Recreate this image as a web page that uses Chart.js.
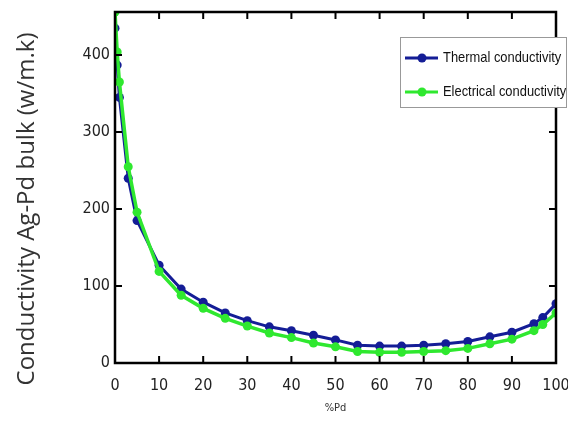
<!DOCTYPE html>
<html>
<head>
<meta charset="utf-8">
<script src="https://cdn.jsdelivr.net/npm/chart.js@4"></script>
<style>
  body { margin: 0; background: #fff; }
  canvas { display: block; }
</style>
</head>
<body>
<canvas id="line-chartcanvas" width="568" height="425"></canvas>
<script>
// %Pd values (x) and the two series
var pdPercent = [0, 0.5, 1, 3, 5, 10, 15, 20, 25, 30, 35, 40, 45, 50, 55, 60, 65, 70, 75, 80, 85, 90, 95, 97, 100];
var thermal = [435, 387, 345, 240, 185, 127, 96, 79, 65, 55, 47, 42, 36, 30, 23, 22, 22, 23, 25, 28, 34, 40, 51, 59, 77];
var electrical = [456, 404, 365, 255, 196, 119, 88, 71, 58, 48, 39, 33, 26, 21, 15, 14, 14, 15, 16, 19, 25, 31, 42, 50, 65];
var yTicks = [0, 100, 200, 300, 400];
var xTicks = [0, 10, 20, 30, 40, 50, 60, 70, 80, 90, 100];
var yTitle = "Conductivity Ag-Pd bulk (w/m.k)";

var BLUE = "#141d96";
var GREEN = "#2fe82f";
var NARROW = "'DejaVu Sans Condensed', 'Liberation Sans', Arial, sans-serif";

function toPoints(ys) {
  return pdPercent.map(function (x, i) { return { x: x, y: ys[i] }; });
}

// black box round the plot with inward ticks on all four sides
var frame = {
  id: "frame",
  afterDatasetsDraw: function (chart) {
    var c = chart.ctx, a = chart.chartArea;
    var xs = chart.scales.x, ys = chart.scales.y;
    c.save();
    c.strokeStyle = "#000";
    c.lineWidth = 2.5;
    c.strokeRect(a.left, a.top, a.right - a.left, a.bottom - a.top);
    c.lineWidth = 2;
    c.beginPath();
    xTicks.forEach(function (v) {
      var px = xs.getPixelForValue(v);
      c.moveTo(px, a.bottom); c.lineTo(px, a.bottom - 7);
      c.moveTo(px, a.top); c.lineTo(px, a.top + 7);
    });
    yTicks.forEach(function (v) {
      var py = ys.getPixelForValue(v);
      c.moveTo(a.left, py); c.lineTo(a.left + 7, py);
      c.moveTo(a.right, py); c.lineTo(a.right - 7, py);
    });
    c.stroke();
    c.restore();
  },
  afterDraw: function (chart) {
    var c = chart.ctx;
    c.save();
    // y axis title, sits a bit lower than the plot centre
    c.translate(27, 209);
    c.rotate(-Math.PI / 2);
    c.fillStyle = "#333";
    c.font = "24px 'Open Sans', sans-serif";
    c.textAlign = "center";
    c.textBaseline = "middle";
    c.fillText(yTitle, 0, 0);
    c.restore();

    // legend box, top right
    var bx = 400, by = 37, bw = 167, bh = 71;
    c.save();
    c.fillStyle = "#fff";
    c.fillRect(bx, by, bw, bh);
    c.strokeStyle = "#999";
    c.lineWidth = 1;
    c.strokeRect(bx + 0.5, by + 0.5, bw - 1, bh - 1);
    var rows = [
      { label: chart.data.datasets[1].label, color: BLUE, y: 58 },
      { label: chart.data.datasets[0].label, color: GREEN, y: 92 }
    ];
    rows.forEach(function (r) {
      c.strokeStyle = r.color;
      c.lineWidth = 3;
      c.beginPath();
      c.moveTo(405, r.y); c.lineTo(438, r.y);
      c.stroke();
      c.fillStyle = r.color;
      c.beginPath();
      c.arc(422, r.y, 4.5, 0, Math.PI * 2);
      c.fill();
      c.fillStyle = "#111";
      c.font = "15px 'Liberation Sans', Arial, sans-serif";
      c.textBaseline = "middle";
      c.textAlign = "left";
      c.save();
      c.translate(443, r.y);
      c.scale(0.86, 1);
      c.fillText(r.label, 0, 0);
      c.restore();
    });
    c.restore();
  }
};

var data = {
  datasets: [
    {
      label: "Electrical conductivity",
      data: toPoints(electrical),
      borderColor: GREEN,
      backgroundColor: GREEN,
      borderWidth: 3.5,
      pointRadius: 4.5,
      pointBorderWidth: 0,
      lineTension: 0,
      fill: false,
      order: 0
    },
    {
      label: "Thermal conductivity",
      data: toPoints(thermal),
      borderColor: BLUE,
      backgroundColor: BLUE,
      borderWidth: 3,
      pointRadius: 4.5,
      pointBorderWidth: 0,
      lineTension: 0,
      fill: false,
      order: 1
    }
  ]
};

var options = {
  responsive: false,
  animation: false,
  layout: { padding: { top: 12, right: 12, left: 0, bottom: 0 } },
  plugins: { legend: { display: false }, tooltip: { enabled: false } },
  elements: { line: { clip: false } },
  scales: {
    x: {
      type: "linear",
      min: 0,
      max: 100,
      grid: { display: false, drawTicks: false },
      border: { display: false },
      ticks: {
        stepSize: 10,
        padding: 13,
        color: "#222",
        font: { family: NARROW, size: 16 }
      },
      title: {
        display: true,
        text: "%Pd",
        color: "#333",
        font: { family: NARROW, size: 11 },
        padding: { top: 0, bottom: 10 }
      },
      afterFit: function (s) { s.height = 62; s.paddingLeft = 0; s.paddingRight = 0; }
    },
    y: {
      min: 0,
      max: 456,
      grid: { display: false, drawTicks: false },
      border: { display: false },
      ticks: {
        padding: 5,
        color: "#222",
        font: { family: NARROW, size: 16 }
      },
      afterBuildTicks: function (s) {
        s.ticks = yTicks.map(function (v) { return { value: v }; });
      },
      afterFit: function (s) { s.width = 115; s.paddingTop = 0; s.paddingBottom = 0; }
    }
  }
};

var chart = new Chart(document.getElementById("line-chartcanvas"), {
  type: "line",
  data: data,
  options: options,
  plugins: [frame]
});
</script>
</body>
</html>
